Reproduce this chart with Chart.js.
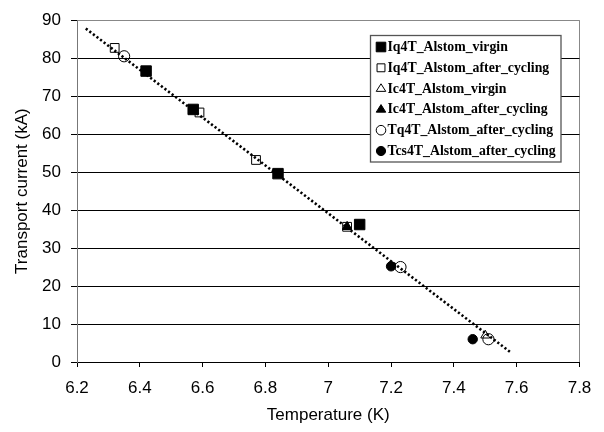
<!DOCTYPE html>
<html>
<head>
<meta charset="utf-8">
<script src="https://cdn.jsdelivr.net/npm/chart.js@4.4.1/dist/chart.umd.min.js"></script>
<style>
html,body{margin:0;padding:0;background:#fff;}
#wrap{width:604px;height:432px;position:relative;}
</style>
</head>
<body>
<div id="wrap"><canvas id="c" width="604" height="432"></canvas></div>
<script>
// ---- data ----
const seriesNames = [
  'Iq4T_Alstom_virgin',
  'Iq4T_Alstom_after_cycling',
  'Ic4T_Alstom_virgin',
  'Ic4T_Alstom_after_cycling',
  'Tq4T_Alstom_after_cycling',
  'Tcs4T_Alstom_after_cycling'
];
const iq4tVirginT = [6.42, 6.57, 6.84, 7.10];
const iq4tVirginI = [76.6, 66.5, 49.6, 36.2];
const iq4tCycledT = [6.32, 6.59, 6.77, 7.06];
const iq4tCycledI = [82.7, 65.7, 53.2, 35.6];
const ic4tVirginT = [7.06, 7.50];
const ic4tVirginI = [35.6, 7.0];
const ic4tCycledT = [7.06];
const ic4tCycledI = [35.6];
const tq4tCycledT = [6.35, 7.23, 7.51];
const tq4tCycledI = [80.5, 25.0, 6.0];
const tcs4tCycledT = [7.20, 7.46];
const tcs4tCycledI = [25.2, 6.0];
const trendT = [6.228, 7.583];
const trendI = [87.8, 2.4];
const xTicks = [6.2, 6.4, 6.6, 6.8, 7.0, 7.2, 7.4, 7.6, 7.8];
const yTicks = [0, 10, 20, 30, 40, 50, 60, 70, 80, 90];

function pts(xs, ys){ return xs.map((x,i)=>({x:x, y:ys[i]})); }

const markerDefs = [
  {style:'rect', fill:true, r:7.4},
  {style:'rect', fill:false, r:6.2},
  {style:'triangle', fill:false, r:5.2},
  {style:'triangle', fill:true, r:5.2},
  {style:'circle', fill:false, r:5.6},
  {style:'circle', fill:true, r:4.7}
];
const seriesData = [
  pts(iq4tVirginT, iq4tVirginI),
  pts(iq4tCycledT, iq4tCycledI),
  pts(ic4tVirginT, ic4tVirginI),
  pts(ic4tCycledT, ic4tCycledI),
  pts(tq4tCycledT, tq4tCycledI),
  pts(tcs4tCycledT, tcs4tCycledI)
];

const datasets = seriesNames.map((name, i) => ({
  label: name,
  data: seriesData[i],
  showLine: false,
  pointStyle: markerDefs[i].style,
  pointRadius: markerDefs[i].r,
  pointHoverRadius: markerDefs[i].r,
  pointBackgroundColor: markerDefs[i].fill ? '#000' : 'rgba(0,0,0,0)',
  pointBorderColor: '#000',
  pointBorderWidth: 1,
  order: 6 - i
}));
datasets.push({
  label: 'trend',
  data: pts(trendT, trendI),
  showLine: true,
  borderColor: '#000',
  borderWidth: 2.6,
  borderDash: [2.2, 2.3],
  borderCapStyle: 'butt',
  pointRadius: 0,
  fill: false,
  order: 20
});

function drawMarker(ctx, style, fill, r, x, y){
  ctx.save();
  ctx.beginPath();
  if (style === 'rect') {
    const s = Math.SQRT1_2 * r;
    ctx.rect(x - s, y - s, 2*s, 2*s);
  } else if (style === 'triangle') {
    ctx.moveTo(x, y - r);
    ctx.lineTo(x + r*0.866*1.15, y + r*0.5*1.15);
    ctx.lineTo(x - r*0.866*1.15, y + r*0.5*1.15);
    ctx.closePath();
  } else {
    ctx.arc(x, y, r, 0, Math.PI*2);
  }
  ctx.lineWidth = 1;
  ctx.strokeStyle = '#000';
  if (fill) { ctx.fillStyle = '#000'; ctx.fill(); }
  ctx.stroke();
  ctx.restore();
}

const boxLegend = {
  id: 'boxLegend',
  afterDraw(chart) {
    const ctx = chart.ctx;
    const L = 370.5, T = 35.5, W = 190.5, H = 126.5;
    ctx.save();
    ctx.fillStyle = '#fff';
    ctx.fillRect(L, T, W, H);
    ctx.strokeStyle = '#555';
    ctx.lineWidth = 1.3;
    ctx.strokeRect(L, T, W, H);
    ctx.font = 'bold 13.8px "Liberation Serif", "Times New Roman", serif';
    ctx.fillStyle = '#000';
    ctx.textBaseline = 'middle';
    ctx.textAlign = 'left';
    const legR = [6.8, 5.6, 4.8, 4.8, 4.8, 4.6];
    seriesNames.forEach((name, i) => {
      const y = T + 11.5 + i * 20.8;
      drawMarker(ctx, markerDefs[i].style, markerDefs[i].fill, legR[i], 381, y);
      ctx.fillText(name, 387.5, y + 0.5);
    });
    ctx.restore();
  }
};

const tickFont = {family: '"Liberation Sans", Arial, sans-serif', size: 17};

new Chart(document.getElementById('c'), {
  type: 'scatter',
  data: { datasets: datasets },
  plugins: [boxLegend],
  options: {
    responsive: false,
    animation: false,
    events: [],
    layout: { padding: { top: 16, right: 24.5, left: 0, bottom: 0 } },
    plugins: { legend: { display: false }, tooltip: { enabled: false } },
    scales: {
      x: {
        type: 'linear',
        min: xTicks[0], max: xTicks[xTicks.length-1],
        afterBuildTicks: s => { s.ticks = xTicks.map(v => ({value: v})); },
        afterFit: s => { s.height = 70; },
        ticks: {
          color: '#000', font: tickFont, padding: 11, maxRotation: 0,
          callback: v => String(Math.round(v*10)/10)
        },
        grid: {
          drawOnChartArea: true,
          color: c => (c.tick && Math.abs(c.tick.value - 7.8) < 1e-6) ? '#888' : 'rgba(0,0,0,0)',
          tickColor: '#000',
          tickLength: 5,
          lineWidth: 1
        },
        border: { color: '#000', width: 1 },
        title: {
          display: true, text: 'Temperature (K)', color: '#000',
          font: tickFont, padding: { top: 0, bottom: 6 }
        }
      },
      y: {
        type: 'linear',
        min: yTicks[0], max: yTicks[yTicks.length-1],
        afterBuildTicks: s => { s.ticks = yTicks.map(v => ({value: v})); },
        afterFit: s => { s.width = 77; },
        ticks: { color: '#000', font: tickFont, padding: 10 },
        grid: {
          color: c => (c.tick && c.tick.value === 90) ? '#888' : '#000',
          tickColor: '#000',
          tickLength: 6,
          lineWidth: 1
        },
        border: { color: '#777', width: 1 },
        title: {
          display: true, text: 'Transport current (kA)', color: '#000',
          font: tickFont, padding: { top: 12, bottom: 0 }
        }
      }
    }
  }
});
</script>
</body>
</html>
